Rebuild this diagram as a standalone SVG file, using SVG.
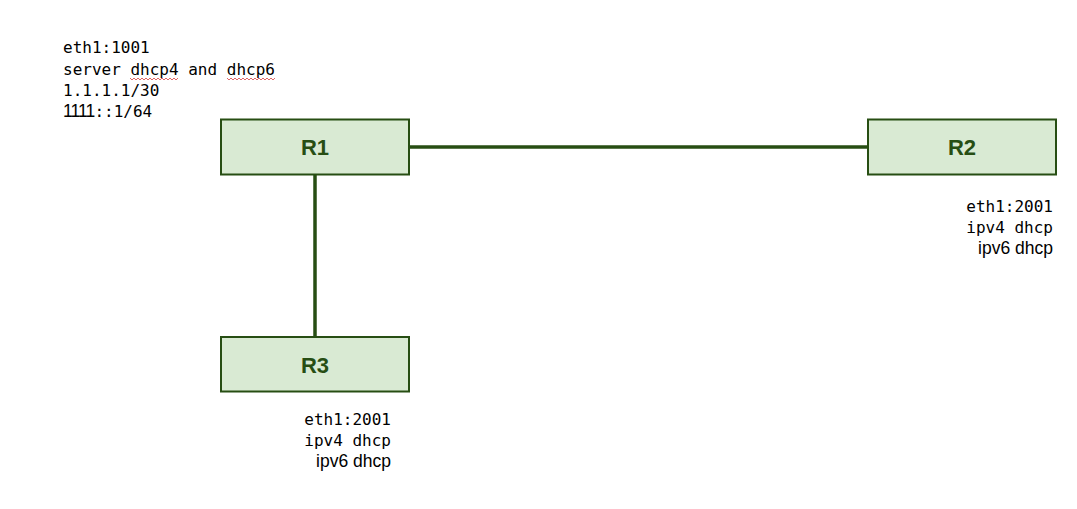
<svg xmlns="http://www.w3.org/2000/svg" width="1077" height="509" viewBox="0 0 1077 509">
<style>
.box{fill:#d9ead3;stroke:#274e13;stroke-width:2}
.lbl{font-family:"Liberation Sans",Arial,sans-serif;font-weight:bold;font-size:22px;fill:#274e13;text-anchor:middle}
.mono{font-family:"DejaVu Sans Mono",monospace;font-size:16px;fill:#000}
.prop{font-family:"Liberation Sans",Arial,sans-serif;font-size:17.5px;fill:#000}
.link{stroke:#274e13;stroke-width:3.5;fill:none}
.sq{stroke:#e06666;stroke-width:1;fill:none}
</style>
<rect width="1077" height="509" fill="#fff"/>
<g id="connectors">
<line class="link" x1="409" y1="147" x2="868" y2="147"/>
<line class="link" x1="315" y1="174" x2="315" y2="337"/>
</g>
<g id="R1">
<rect class="box" x="221" y="119.5" width="188" height="55"/>
<text class="lbl" x="315" y="155">R1</text>
</g>
<g id="R2">
<rect class="box" x="868" y="119.5" width="188" height="55"/>
<text class="lbl" x="962" y="155">R2</text>
</g>
<g id="R3">
<rect class="box" x="221" y="337" width="188" height="54.5"/>
<text class="lbl" x="315" y="373">R3</text>
</g>
<g id="R1-notes">
<text class="mono" x="63" y="53">eth1:1001</text>
<text class="mono" x="63" y="75">server dhcp4 and dhcp6</text>
<text class="mono" x="63" y="96">1.1.1.1/30</text>
<text x="63" y="117"><tspan class="prop" font-size="17px" letter-spacing="-0.9">1111</tspan><tspan class="mono">::1/64</tspan></text>
<path class="sq" d="M130 78 l2 2 l2 -2 l2 2 l2 -2 l2 2 l2 -2 l2 2 l2 -2 l2 2 l2 -2 l2 2 l2 -2 l2 2 l2 -2 l2 2 l2 -2 l2 2 l2 -2 l2 2 l2 -2 l2 2 l2 -2 l2 2 l2 -2"/>
<path class="sq" d="M227 78 l2 2 l2 -2 l2 2 l2 -2 l2 2 l2 -2 l2 2 l2 -2 l2 2 l2 -2 l2 2 l2 -2 l2 2 l2 -2 l2 2 l2 -2 l2 2 l2 -2 l2 2 l2 -2 l2 2 l2 -2 l2 2 l2 -2"/>
</g>
<g id="R2-notes">
<text class="mono" x="1053" y="212" text-anchor="end">eth1:2001</text>
<text class="mono" x="1053" y="233" text-anchor="end">ipv4 dhcp</text>
<text class="prop" x="1053" y="254" text-anchor="end">ipv6 dhcp</text>
</g>
<g id="R3-notes">
<text class="mono" x="391" y="425" text-anchor="end">eth1:2001</text>
<text class="mono" x="391" y="446" text-anchor="end">ipv4 dhcp</text>
<text class="prop" x="391" y="467" text-anchor="end">ipv6 dhcp</text>
</g>
</svg>
